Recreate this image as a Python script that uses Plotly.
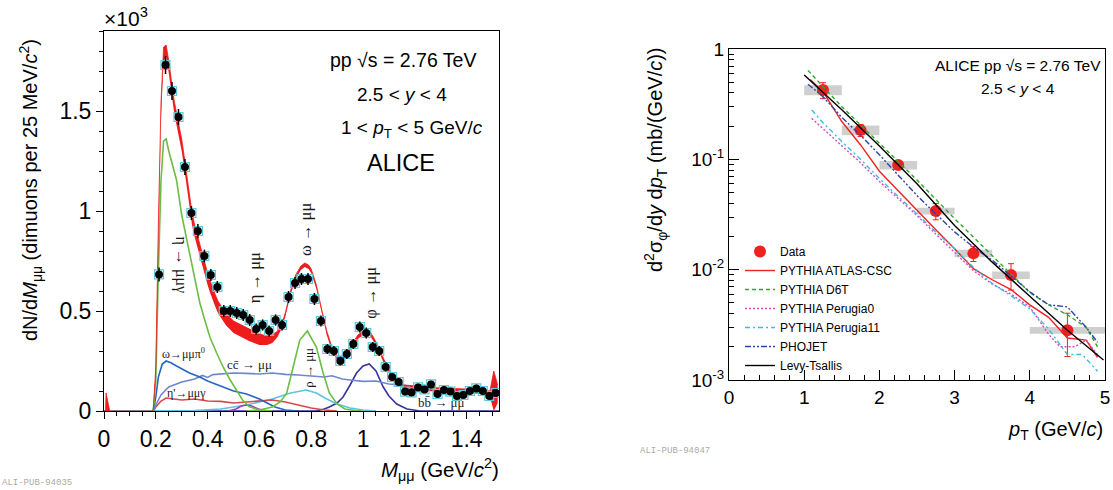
import plotly.graph_objects as go

# ---------------- Left panel: dimuon invariant mass spectrum ----------------
mass_bins = [0.2125, 0.2375, 0.2625, 0.2875, 0.3125, 0.3375, 0.3625, 0.3875, 0.4125, 0.4375,
             0.4625, 0.4875, 0.5125, 0.5375, 0.5625, 0.5875, 0.6125, 0.6375, 0.6625, 0.6875,
             0.7125, 0.7375, 0.7625, 0.7875, 0.8125, 0.8375, 0.8625, 0.8875, 0.9125, 0.9375,
             0.9625, 0.9875, 1.0125, 1.0375, 1.0625, 1.0875, 1.1125, 1.1375, 1.1625, 1.1875,
             1.2125, 1.2375, 1.2625, 1.2875, 1.3125, 1.3375, 1.3625, 1.3875, 1.4125, 1.4375,
             1.4625, 1.4875, 1.5125]
dimuon_counts = [0.683, 1.73, 1.60, 1.47, 1.22, 0.99, 0.90, 0.775, 0.68, 0.62,
                 0.50, 0.50, 0.49, 0.48, 0.455, 0.41, 0.43, 0.40, 0.455, 0.43,
                 0.57, 0.64, 0.66, 0.66, 0.56, 0.45, 0.31, 0.30, 0.25, 0.285,
                 0.335, 0.42, 0.39, 0.32, 0.30, 0.22, 0.17, 0.145, 0.097, 0.093,
                 0.118, 0.108, 0.133, 0.085, 0.105, 0.097, 0.075, 0.08, 0.10, 0.113,
                 0.10, 0.075, 0.09]
dimuon_errors = [0.035, 0.045, 0.045, 0.04, 0.04, 0.035, 0.035, 0.032, 0.03, 0.03,
                 0.03, 0.03, 0.03, 0.03, 0.03, 0.028, 0.028, 0.028, 0.028, 0.028,
                 0.03, 0.03, 0.03, 0.03, 0.03, 0.028, 0.025, 0.025, 0.022, 0.025,
                 0.025, 0.028, 0.028, 0.025, 0.025, 0.022, 0.02, 0.02, 0.018, 0.018,
                 0.018, 0.018, 0.018, 0.016, 0.018, 0.016, 0.016, 0.016, 0.018, 0.018,
                 0.018, 0.016, 0.016]

# Total hadronic cocktail fit (band: lower / upper edge)
fit_mass = [0.0, 0.006, 0.008, 0.022, 0.19, 0.2, 0.21, 0.22, 0.23, 0.24, 0.25, 0.26, 0.27,
            0.28, 0.29, 0.30, 0.31, 0.32, 0.33, 0.34, 0.35, 0.36, 0.37, 0.38, 0.39, 0.40,
            0.41, 0.42, 0.43, 0.44, 0.45, 0.47, 0.50, 0.53, 0.56, 0.60, 0.63, 0.65, 0.67,
            0.685, 0.70, 0.72, 0.74, 0.76, 0.775, 0.79, 0.80, 0.82, 0.84, 0.86, 0.88, 0.90,
            0.92, 0.94, 0.96, 0.98, 1.0, 1.025, 1.04, 1.06, 1.08, 1.10, 1.12, 1.14, 1.16,
            1.2, 1.3, 1.4, 1.47, 1.49, 1.505, 1.52]
fit_low = [0, 0, 0, 0, 0, 0.18, 0.86, 1.46, 1.75, 1.77, 1.69, 1.59, 1.50,
           1.43, 1.37, 1.30, 1.21, 1.11, 1.01, 0.93, 0.87, 0.82, 0.77, 0.72, 0.67, 0.63,
           0.59, 0.55, 0.52, 0.49, 0.47, 0.43, 0.39, 0.37, 0.35, 0.33, 0.33, 0.34, 0.37,
           0.41, 0.47, 0.58, 0.66, 0.705, 0.72, 0.71, 0.69, 0.61, 0.49, 0.38, 0.30, 0.255,
           0.255, 0.28, 0.32, 0.36, 0.38, 0.38, 0.35, 0.30, 0.24, 0.19, 0.15, 0.125, 0.11,
           0.105, 0.095, 0.09, 0.085, 0.07, 0.0, 0.04]
fit_high = [0, 0, 0.09, 0, 0, 0.22, 0.94, 1.54, 1.82, 1.83, 1.75, 1.65, 1.56,
            1.49, 1.43, 1.36, 1.27, 1.17, 1.07, 0.99, 0.93, 0.88, 0.83, 0.78, 0.73, 0.69,
            0.65, 0.61, 0.58, 0.55, 0.53, 0.49, 0.45, 0.43, 0.41, 0.385, 0.375, 0.38, 0.40,
            0.43, 0.49, 0.60, 0.68, 0.725, 0.74, 0.73, 0.71, 0.63, 0.51, 0.40, 0.32, 0.275,
            0.275, 0.30, 0.34, 0.38, 0.40, 0.40, 0.37, 0.32, 0.26, 0.21, 0.17, 0.145, 0.13,
            0.125, 0.115, 0.11, 0.105, 0.10, 0.20, 0.13]

# Individual cocktail sources
eta_dalitz_m = [0.19, 0.2, 0.21, 0.22, 0.23, 0.24, 0.25, 0.265, 0.28, 0.30, 0.33, 0.35, 0.37,
                0.39, 0.41, 0.435, 0.46, 0.485, 0.51, 0.535, 0.56, 0.6, 0.65]
eta_dalitz_y = [0, 0.15, 0.7, 1.15, 1.35, 1.36, 1.30, 1.22, 1.155, 0.98, 0.79, 0.67, 0.54,
                0.45, 0.365, 0.29, 0.22, 0.16, 0.105, 0.055, 0.022, 0.005, 0]

rho_m = [0.55, 0.6, 0.65, 0.68, 0.705, 0.73, 0.756, 0.785, 0.82, 0.846, 0.87, 0.9, 0.93, 0.97, 1.0]
rho_y = [0, 0.005, 0.02, 0.045, 0.088, 0.22, 0.355, 0.40, 0.32, 0.19, 0.09, 0.035, 0.01, 0.002, 0]

omega_dalitz_m = [0.19, 0.2, 0.21, 0.225, 0.24, 0.26, 0.28, 0.30, 0.33, 0.37, 0.40, 0.45,
                  0.50, 0.55, 0.60, 0.63, 0.66, 0.70, 0.75]
omega_dalitz_y = [0, 0.07, 0.17, 0.235, 0.25, 0.24, 0.225, 0.21, 0.19, 0.17, 0.15, 0.125,
                  0.10, 0.085, 0.06, 0.04, 0.02, 0.005, 0]

ccbar_m = [0.19, 0.2, 0.22, 0.25, 0.3, 0.35, 0.38, 0.40, 0.42, 0.45, 0.5, 0.55, 0.6, 0.65,
           0.7, 0.75, 0.8, 0.85, 0.88, 0.92, 0.95, 1.0, 1.05, 1.1, 1.15, 1.2, 1.25, 1.3,
           1.4, 1.52]
ccbar_y = [0, 0.03, 0.08, 0.12, 0.145, 0.16, 0.178, 0.168, 0.182, 0.185, 0.19, 0.188, 0.185,
           0.19, 0.183, 0.18, 0.175, 0.17, 0.176, 0.16, 0.155, 0.148, 0.15, 0.135, 0.13,
           0.12, 0.11, 0.11, 0.1, 0.09]

omega_m = [0.0, 0.19, 0.35, 0.45, 0.55, 0.65, 0.72, 0.78, 0.82, 0.86, 0.9, 0.95, 1.0, 1.05]
omega_y = [0, 0, 0.002, 0.01, 0.03, 0.06, 0.09, 0.105, 0.09, 0.06, 0.035, 0.015, 0.005, 0]

etaprime_m = [0.19, 0.2, 0.22, 0.24, 0.27, 0.3, 0.35, 0.4, 0.45, 0.5, 0.55, 0.6, 0.65, 0.7,
              0.75, 0.8, 0.85, 0.9]
etaprime_y = [0, 0.02, 0.05, 0.065, 0.06, 0.055, 0.06, 0.05, 0.048, 0.04, 0.045, 0.05,
              0.055, 0.045, 0.03, 0.015, 0.005, 0]

eta_m = [0.48, 0.51, 0.53, 0.55, 0.57, 0.6, 0.63]
eta_y = [0, 0.01, 0.025, 0.03, 0.025, 0.008, 0]

phi_m = [0.0, 0.82, 0.85, 0.87, 0.9, 0.923, 0.95, 0.975, 1.0, 1.024, 1.05, 1.078, 1.1,
         1.13, 1.17, 1.22, 1.525]
phi_y = [0, 0, 0.01, 0.02, 0.04, 0.07, 0.13, 0.19, 0.225, 0.235, 0.2, 0.12, 0.075,
         0.035, 0.01, 0, 0]

# ---------------- Right panel: phi pT spectrum ----------------
pt_centers = [1.25, 1.75, 2.25, 2.75, 3.25, 3.75, 4.5]
pt_edges = [1.0, 1.5, 2.0, 2.5, 3.0, 3.5, 4.0, 5.0]
phi_xsec = [0.425, 0.184, 0.0887, 0.034, 0.01405, 0.00893, 0.00283]
phi_stat = [0.07, 0.023, 0.007, 0.0057, 0.0022, 0.0024, 0.0012]
phi_syst = [0.044, 0.0185, 0.0077, 0.0024, 0.0011, 0.0007, 0.0002]

atlas_pt = [1.08, 1.25, 1.5, 1.75, 2.0, 2.25, 2.5, 2.75, 3.0, 3.25, 3.5, 3.75, 4.0, 4.25,
            4.5, 4.75, 4.9]
atlas_y = [0.53, 0.41, 0.22, 0.135, 0.078, 0.052, 0.034, 0.023, 0.0155, 0.0102, 0.0081,
           0.0066, 0.0048, 0.0037, 0.0024, 0.0023, 0.0016]

d6t_pt = [1.05, 1.5, 2.0, 2.5, 3.0, 3.5, 4.0, 4.25, 4.5, 4.75, 4.9]
d6t_y = [0.64, 0.30, 0.14, 0.065, 0.029, 0.0135, 0.0062, 0.0048, 0.0039, 0.0030, 0.002]

perugia0_pt = [1.1, 1.25, 1.5, 1.75, 2.0, 2.25, 2.5, 2.75, 3.0, 3.25, 3.5, 3.75, 4.0, 4.25,
               4.4, 4.6, 4.75, 4.9]
perugia0_y = [0.235, 0.19, 0.132, 0.093, 0.063, 0.044, 0.031, 0.021, 0.0145, 0.0098, 0.0074,
              0.006, 0.0046, 0.0026, 0.002, 0.002, 0.0023, 0.0017]

perugia11_pt = [1.1, 1.25, 1.5, 1.75, 2.0, 2.25, 2.5, 2.75, 3.0, 3.25, 3.5, 3.75, 4.0, 4.25,
                4.5, 4.7, 4.9]
perugia11_y = [0.28, 0.215, 0.145, 0.10, 0.067, 0.046, 0.032, 0.022, 0.0155, 0.0105, 0.0075,
               0.0058, 0.0044, 0.0029, 0.0017, 0.0017, 0.0012]

phojet_pt = [1.05, 1.25, 1.5, 1.75, 2.0, 2.25, 2.5, 2.75, 3.0, 3.25, 3.5, 3.75, 4.0, 4.25,
             4.5, 4.75, 4.9]
phojet_y = [0.48, 0.37, 0.24, 0.165, 0.11, 0.072, 0.047, 0.032, 0.022, 0.016, 0.0122,
            0.0088, 0.0063, 0.0048, 0.0046, 0.0030, 0.0022]

levy_pt = [1.0, 1.5, 2.0, 2.5, 3.0, 3.5, 4.0, 4.5, 4.98]
levy_y = [0.582, 0.282, 0.132, 0.060, 0.0251, 0.0117, 0.00575, 0.00282, 0.00152]

FONT = "Liberation Sans, Arial, sans-serif"
SERIF = "Liberation Serif, Times New Roman, serif"

fig = go.Figure()

# ---- left panel traces ----
def source_line(xs, ys, color, width=1.6):
    fig.add_trace(go.Scatter(x=xs, y=ys, mode="lines", line=dict(color=color, width=width),
                             xaxis="x", yaxis="y", showlegend=False, hoverinfo="skip"))

source_line(phi_m, phi_y, "#35359a")
source_line(omega_m, omega_y, "#5cc3e0")
source_line(eta_m, eta_y, "#9b3fc0")
source_line(etaprime_m, etaprime_y, "#d94848")
source_line(ccbar_m, ccbar_y, "#6f86d2")
source_line(omega_dalitz_m, omega_dalitz_y, "#2565c4")
source_line(rho_m, rho_y, "#6cbd45")
source_line(eta_dalitz_m, eta_dalitz_y, "#6cbd45")

fig.add_trace(go.Scatter(x=fit_mass, y=fit_low, mode="lines", line=dict(width=0, color="#ee1c1c"),
                         xaxis="x", yaxis="y", showlegend=False, hoverinfo="skip"))
fig.add_trace(go.Scatter(x=fit_mass, y=fit_high, mode="lines", line=dict(width=0.8, color="#ee1c1c"),
                         fill="tonexty", fillcolor="#ee1c1c",
                         xaxis="x", yaxis="y", showlegend=False, hoverinfo="skip"))

# systematic boxes around the data points, then data with statistical errors
fig.add_trace(go.Scatter(x=mass_bins, y=dimuon_counts, mode="markers",
                         marker=dict(symbol="square-open", size=9, color="#5cc8d8",
                                     line=dict(width=1.2, color="#5cc8d8")),
                         xaxis="x", yaxis="y", showlegend=False, hoverinfo="skip"))
fig.add_trace(go.Scatter(x=mass_bins, y=dimuon_counts, mode="markers",
                         marker=dict(symbol="circle", size=8, color="black"),
                         error_y=dict(type="data", array=dimuon_errors, color="black",
                                      thickness=1.5, width=0),
                         xaxis="x", yaxis="y", showlegend=False))

# ---- right panel traces ----
box_x, box_y = [], []
for i, (yc, s) in enumerate(zip(phi_xsec, phi_syst)):
    lo, hi = pt_edges[i], pt_edges[i + 1]
    box_x += [lo, hi, hi, lo, lo, None]
    box_y += [yc - s, yc - s, yc + s, yc + s, yc - s, None]
fig.add_trace(go.Scatter(x=box_x, y=box_y, mode="lines", fill="toself", fillcolor="#cfcfcf",
                         line=dict(width=0), xaxis="x2", yaxis="y2", showlegend=False,
                         hoverinfo="skip"))

fig.add_trace(go.Scatter(x=pt_centers, y=phi_xsec, mode="markers", name="Data",
                         marker=dict(symbol="circle", size=12, color="#ee2020"),
                         error_y=dict(type="data", array=phi_stat, color="#ee2020",
                                      thickness=1, width=3),
                         xaxis="x2", yaxis="y2"))

models = [
    ("PYTHIA ATLAS-CSC", atlas_pt, atlas_y, "#ee2222", "solid"),
    ("PYTHIA D6T", d6t_pt, d6t_y, "#2ea82e", "4px,3px"),
    ("PYTHIA Perugia0", perugia0_pt, perugia0_y, "#d548c8", "2px,2px"),
    ("PYTHIA Perugia11", perugia11_pt, perugia11_y, "#3bbde0", "5px,3px,2px,3px"),
    ("PHOJET", phojet_pt, phojet_y, "#2a46a8", "6px,2px,2px,2px,2px,2px"),
    ("Levy-Tsallis", levy_pt, levy_y, "black", "solid"),
]
for name, xs, ys, color, dash in models:
    fig.add_trace(go.Scatter(x=xs, y=ys, mode="lines", name=name,
                             line=dict(color=color, width=1.4, dash=dash),
                             xaxis="x2", yaxis="y2"))

W, H = 1113, 490

def px(x):
    return x / W

def py(y):
    return (H - y) / H

LABEL = dict(family=SERIF, color="#1a1a1a")

annotations = [
    # left panel texts
    dict(text="×10<sup>3</sup>", x=px(102), y=py(17), xref="paper", yref="paper",
         xanchor="left", yanchor="middle", showarrow=False, font=dict(size=21)),
    dict(text="pp √s = 2.76 TeV", x=1.156, y=1.755, xref="x", yref="y", xanchor="center",
         showarrow=False, font=dict(size=19.5)),
    dict(text="2.5 < <i>y</i> < 4", x=1.152, y=1.58, xref="x", yref="y", xanchor="center",
         showarrow=False, font=dict(size=19)),
    dict(text="1 < <i>p</i><sub>T</sub> < 5 GeV/<i>c</i>", x=1.188, y=1.41, xref="x", yref="y",
         xanchor="center", showarrow=False, font=dict(size=19)),
    dict(text="ALICE", x=1.146, y=1.24, xref="x", yref="y", xanchor="center", showarrow=False,
         font=dict(size=23.5)),
    dict(text="dN/d<i>M</i><sub>μμ</sub> (dimuons per 25 MeV/<i>c</i><sup>2</sup>)",
         x=px(30), y=py(190), xref="paper", yref="paper", xanchor="center", yanchor="middle",
         textangle=-90, showarrow=False, font=dict(size=20)),
    dict(text="<i>M</i><sub>μμ</sub> (GeV/<i>c</i><sup>2</sup>)", x=px(501), y=py(469),
         xref="paper", yref="paper", xanchor="right", yanchor="middle", showarrow=False,
         font=dict(size=20.5)),
    # source labels
    dict(text="η → μμγ", x=0.299, y=0.73, xref="x", yref="y", textangle=90, showarrow=False,
         font=dict(size=16, **LABEL)),
    dict(text="η → μμ", x=0.58, y=0.665, xref="x", yref="y", textangle=-90, showarrow=False,
         font=dict(size=16.5, **LABEL)),
    dict(text="ω → μμ", x=0.776, y=0.905, xref="x", yref="y", textangle=-90, showarrow=False,
         font=dict(size=16.5, **LABEL)),
    dict(text="ρ → μμ", x=0.787, y=0.215, xref="x", yref="y", textangle=-90, showarrow=False,
         font=dict(size=13, **LABEL)),
    dict(text="φ → μμ", x=1.026, y=0.59, xref="x", yref="y", textangle=-90, showarrow=False,
         font=dict(size=16.5, **LABEL)),
    dict(text="ω→μμπ<sup>0</sup>", x=0.305, y=0.29, xref="x", yref="y", showarrow=False,
         font=dict(size=12, **LABEL)),
    dict(text="cc\u0304 → μμ", x=0.56, y=0.235, xref="x", yref="y", showarrow=False,
         font=dict(size=13, **LABEL)),
    dict(text="η'→μμγ", x=0.32, y=0.09, xref="x", yref="y", showarrow=False,
         font=dict(size=12, **LABEL)),
    dict(text="bb\u0304 → μμ", x=1.30, y=0.045, xref="x", yref="y", showarrow=False,
         font=dict(size=13, **LABEL)),
    # right panel texts
    dict(text="ALICE pp √s = 2.76 TeV", x=px(1103), y=py(66), xref="paper", yref="paper",
         xanchor="right", yanchor="middle", showarrow=False, font=dict(size=15.5)),
    dict(text="2.5 < <i>y</i> < 4", x=px(1018), y=py(88), xref="paper", yref="paper",
         xanchor="center", yanchor="middle", showarrow=False, font=dict(size=15.5)),
    dict(text="d<sup>2</sup>σ<sub>φ</sub>/d<i>y</i> d<i>p</i><sub>T</sub> (mb/(GeV/<i>c</i>))",
         x=px(655), y=py(160), xref="paper", yref="paper", xanchor="center", yanchor="middle",
         textangle=-90, showarrow=False, font=dict(size=20)),
    dict(text="<i>p</i><sub>T</sub> (GeV/<i>c</i>)", x=px(1105), y=py(430), xref="paper",
         yref="paper", xanchor="right", yanchor="middle", showarrow=False, font=dict(size=20)),
    # publication ids
    dict(text="ALI-PUB-94035", x=0, y=py(483), xref="paper", yref="paper", xanchor="left",
         yanchor="middle", showarrow=False,
         font=dict(size=9, family="Liberation Mono, monospace", color="#aaaaaa")),
    dict(text="ALI-PUB-94047", x=px(638), y=py(451), xref="paper", yref="paper",
         xanchor="left", yanchor="middle", showarrow=False,
         font=dict(size=9, family="Liberation Mono, monospace", color="#aaaaaa")),
]

axis_common = dict(showgrid=False, zeroline=False, showline=True, linecolor="black",
                   linewidth=1, mirror=True, tickcolor="black", automargin=False)

fig.update_layout(
    width=W, height=H,
    margin=dict(l=0, r=0, t=0, b=0, pad=0, autoexpand=False),
    paper_bgcolor="white", plot_bgcolor="white",
    font=dict(family=FONT, color="black"),
    xaxis=dict(domain=[px(104), px(499)], range=[0, 1.525], anchor="y",
               tickvals=[0, 0.2, 0.4, 0.6, 0.8, 1.0, 1.2, 1.4],
               ticktext=["0", "0.2", "0.4", "0.6", "0.8", "1", "1.2", "1.4"],
               ticks="outside", ticklen=7, tickfont=dict(size=23),
               minor=dict(dtick=0.05, tick0=0, ticks="outside", ticklen=4, tickcolor="black"),
               **axis_common),
    yaxis=dict(domain=[py(411), py(31)], range=[0, 1.9], anchor="x",
               tickvals=[0, 0.5, 1.0, 1.5], ticktext=["0", "0.5", "1", "1.5"],
               ticks="outside", ticklen=7, tickfont=dict(size=23),
               minor=dict(dtick=0.1, tick0=0, ticks="outside", ticklen=4, tickcolor="black"),
               **axis_common),
    xaxis2=dict(domain=[px(729), px(1105)], range=[0, 5], anchor="y2",
                tickvals=[0, 1, 2, 3, 4, 5], ticks="inside", ticklen=10,
                tickfont=dict(size=19),
                minor=dict(dtick=0.2, tick0=0, ticks="inside", ticklen=5, tickcolor="black"),
                **axis_common),
    yaxis2=dict(domain=[py(380), py(49)], type="log", range=[-3, 0], anchor="x2",
                tickvals=[1, 0.1, 0.01, 0.001],
                ticktext=["1", "10<sup>-1</sup>", "10<sup>-2</sup>", "10<sup>-3</sup>"],
                ticks="inside", ticklen=10, tickfont=dict(size=19),
                minor=dict(dtick="D1", ticks="inside", ticklen=5, tickcolor="black"),
                **axis_common),
    showlegend=True,
    legend=dict(x=px(740), y=py(237), xanchor="left", yanchor="top", traceorder="normal",
                bgcolor="rgba(0,0,0,0)", font=dict(size=12), tracegroupgap=0,
                itemwidth=30),
    annotations=annotations,
)

fig.write_html("out.html")
